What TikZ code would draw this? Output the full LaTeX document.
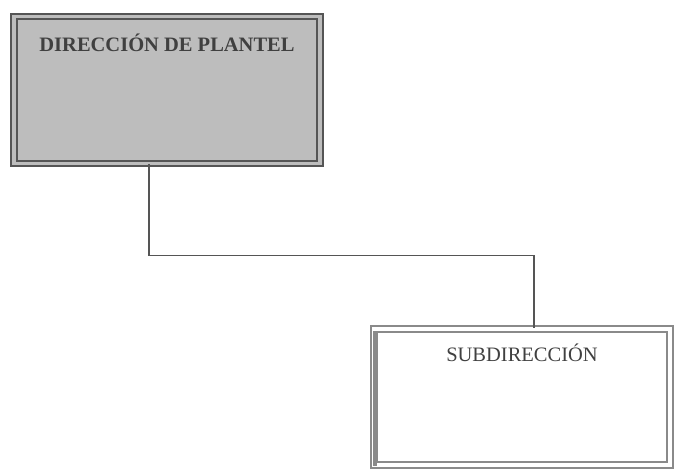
\documentclass[tikz,border=0pt]{standalone}
\usepackage{fontspec}
\setmainfont{Liberation Serif}
\usepackage{tikz}
\usetikzlibrary{calc}
\usetikzlibrary{positioning}
\definecolor{boxgray}{HTML}{BDBDBD}
\definecolor{linegray}{HTML}{555555}
\definecolor{lightline}{HTML}{8A8A8A}
\tikzstyle{unitbox} = [draw=linegray, double=white, double distance=3.5pt, line width=1.8pt, rectangle, inner sep=0pt]
\tikzstyle{colorA} = [fill=boxgray, double=boxgray]
\tikzstyle{boxtext} = [font=\fontsize{20.5}{23}\selectfont, text=black!75, inner sep=0pt]
\tikzstyle{link} = [draw=linegray, line width=1.6pt]

\begin{document}
\begin{tikzpicture}[x=1pt, y=-1pt]
\useasboundingbox (0,0) rectangle (675,471);
\node[unitbox, colorA, minimum width=306pt, minimum height=147pt] (dir) at (167,90) {};
\node[boxtext, font=\fontsize{20.5}{23}\selectfont\bfseries] (dir_text) at ($(dir.north)+(0,27)$) {DIRECCIÓN DE PLANTEL};

\node[unitbox, draw=lightline, minimum width=296pt, minimum height=136pt] (sub) at (522,397) {};
\draw[draw=lightline, line width=4pt] ($(sub.north west)+(2,3)$) -- ($(sub.south west)+(2,0)$);
\node[boxtext] (sub_text) at ($(sub.north)+(0,25)$) {SUBDIRECCIÓN};

\coordinate (link_top) at ($(dir.south)+(-18,0)$);
\coordinate (link_bot) at ($(sub.north)+(12,0)$);
\draw[link] (link_top) -- ++(0,91) -| (link_bot);
\end{tikzpicture}
\end{document}
